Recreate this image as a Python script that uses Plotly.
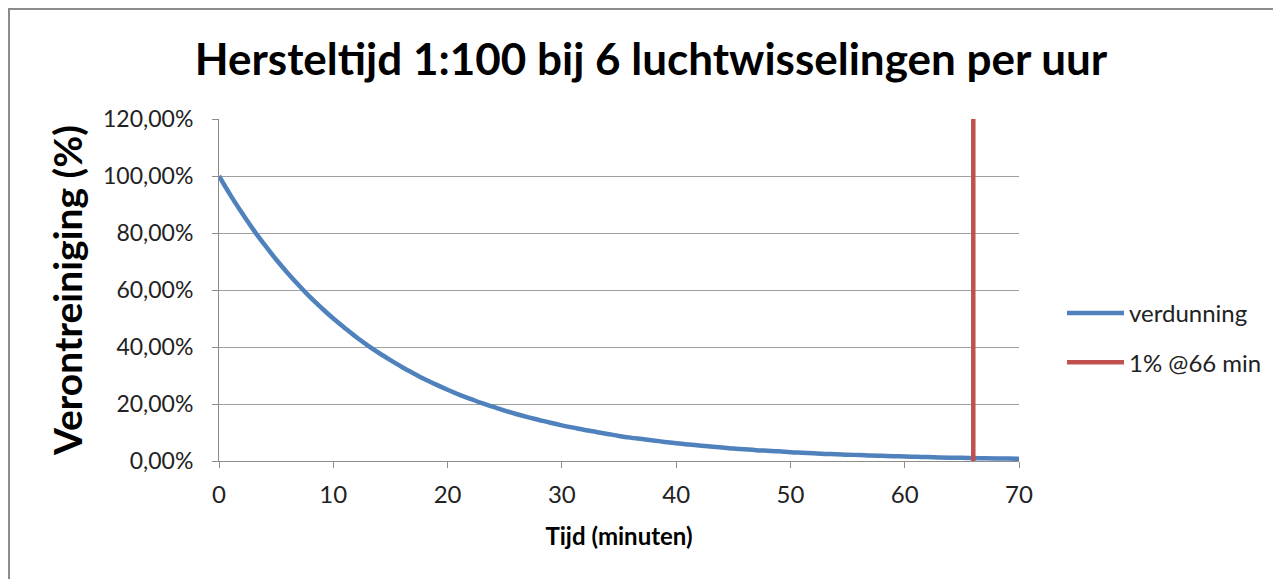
import plotly.graph_objects as go

tijd = list(range(0, 71))
verdunning = [1.000, 0.933, 0.871, 0.812, 0.758, 0.707, 0.660, 0.616, 0.574, 0.536,
              0.500, 0.467, 0.435, 0.406, 0.379, 0.354, 0.330, 0.308, 0.287, 0.268,
              0.250, 0.233, 0.218, 0.203, 0.190, 0.177, 0.165, 0.154, 0.144, 0.134,
              0.125, 0.117, 0.109, 0.102, 0.095, 0.088, 0.082, 0.077, 0.072, 0.067,
              0.0625, 0.058, 0.054, 0.051, 0.047, 0.044, 0.041, 0.038, 0.036, 0.034,
              0.031, 0.029, 0.027, 0.025, 0.024, 0.022, 0.021, 0.019, 0.018, 0.017,
              0.0156, 0.0146, 0.0136, 0.0127, 0.0118, 0.0110, 0.0103, 0.0096, 0.0090, 0.0084,
              0.0078]
grens_x = [66, 66]
grens_y = [0.0, 1.2]
y_ticks = [0, 0.2, 0.4, 0.6, 0.8, 1.0, 1.2]
x_ticks = [0, 10, 20, 30, 40, 50, 60, 70]

font = "Lato, 'Open Sans', sans-serif"

W, H = 1273, 571
L, R, T, B = 211, 262, 111, 118
PW, PH = W - L - R, H - T - B

fig = go.Figure()
fig.add_trace(go.Scatter(x=tijd, y=verdunning, mode="lines", name="verdunning",
                         line=dict(color="#4F81BD", width=4.5, shape="spline"),
                         legendgroup="a"))
fig.add_trace(go.Scatter(x=grens_x, y=grens_y, mode="lines", name="1% @66 min",
                         line=dict(color="#C0504D", width=4.5), legendgroup="b"))

fig.update_layout(
    width=W, height=H,
    margin=dict(l=L, r=R, t=T, b=B),
    paper_bgcolor="white", plot_bgcolor="white",
    separators=", ",
    title=dict(text="<b>Hersteltijd 1:100 bij 6 luchtwisselingen per uur</b>",
               x=(651 - 8) / W, xanchor="center", xref="container", y=1 - 52 / H, yanchor="middle",
               font=dict(family=font, size=44, color="#000000")),
    font=dict(family=font, color="#000000"),
    legend=dict(x=(1062 - 8 - L) / PW, y=(H - B - (338 - 8)) / PH, xanchor="left", yanchor="middle",
                font=dict(size=24, color="#222222"), tracegroupgap=15, itemwidth=57,
                bgcolor="rgba(0,0,0,0)"),
    xaxis=dict(range=[0, 70], tickvals=x_ticks, showgrid=False, zeroline=False,
               showline=True, linecolor="#8c8c8c", linewidth=1,
               ticks="outside", ticklen=6, tickcolor="#8c8c8c",
               ticklabelstandoff=6,
               tickfont=dict(size=24, color="#222222"),
               title=dict(text="<b>Tijd (minuten)</b>", font=dict(size=24, color="#000000"),
                          standoff=21)),
    yaxis=dict(range=[0, 1.2], tickvals=y_ticks, tickformat=".2%",
               showgrid=True, gridcolor="#a0a0a0", gridwidth=1, zeroline=False,
               showline=True, linecolor="#8c8c8c", linewidth=1,
               ticks="outside", ticklen=6, tickcolor="#8c8c8c",
               ticklabelstandoff=14,
               tickfont=dict(size=23, color="#222222"),
               title=dict(text="<b>Verontreiniging (%)</b>", font=dict(size=39, color="#000000"),
                          standoff=8)),
)

fig.add_shape(type="rect", xref="paper", yref="paper",
              x0=(1 - L) / PW, x1=(W + 10 - L) / PW,
              y0=(H - B - (H + 10)) / PH, y1=(H - B - 1) / PH,
              line=dict(color="#8c8c8c", width=2), fillcolor="rgba(0,0,0,0)", layer="below")

fig.write_html("out.html")
